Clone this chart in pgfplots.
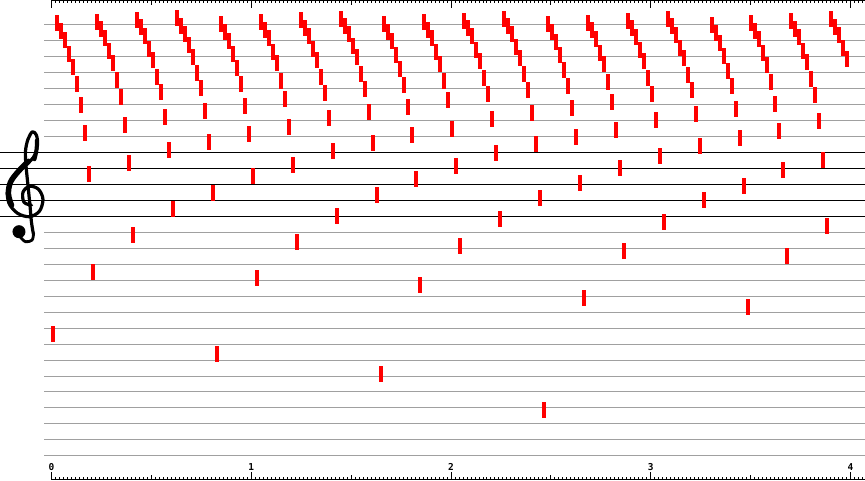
\documentclass[border=0pt]{standalone}
\usepackage{pgfplots}
\pgfplotsset{compat=1.18}
\usepackage{pgfplotstable}
\usepackage{fontspec}
\newfontfamily\monob{DejaVu Sans Mono Bold}
\definecolor{staffgray}{RGB}{160,160,160}
\pgfdeclareplotmark{vbar}{\pgfpathrectangle{\pgfpoint{0pt}{-8pt}}{\pgfpoint{4pt}{16pt}}\pgfusepathqfill}

% t = frame start time (s), s = pitch in staff steps above the middle line (B4)
\pgfplotstableread{
t s
0.00 -18.75
0.02 20.13
0.04 19.13
0.06 18.00
0.08 16.25
0.10 14.63
0.12 12.50
0.14 9.88
0.16 6.38
0.18 1.25
0.20 -11.00
0.22 20.25
0.24 19.38
0.26 18.25
0.28 16.63
0.30 15.13
0.32 13.00
0.34 10.88
0.36 7.38
0.38 2.63
0.40 -6.38
0.42 20.50
0.44 19.63
0.46 18.50
0.48 16.88
0.50 15.50
0.52 13.38
0.54 11.50
0.56 8.38
0.58 4.25
0.60 -3.13
0.62 20.75
0.64 19.75
0.66 18.75
0.68 17.38
0.70 15.88
0.72 13.88
0.74 12.00
0.76 9.13
0.78 5.25
0.80 -1.13
0.82 -21.25
0.84 20.00
0.86 19.00
0.88 17.88
0.90 16.25
0.92 14.50
0.94 12.50
0.96 9.75
0.98 6.25
1.00 1.00
1.02 -11.75
1.04 20.25
1.06 19.25
1.08 18.25
1.10 16.50
1.12 15.13
1.14 12.88
1.16 10.63
1.18 7.13
1.20 2.38
1.22 -7.25
1.24 20.50
1.26 19.50
1.28 18.50
1.30 16.88
1.32 15.50
1.34 13.38
1.36 11.38
1.38 8.25
1.40 4.13
1.42 -4.00
1.44 20.63
1.46 19.75
1.48 18.75
1.50 17.25
1.52 15.88
1.54 13.75
1.56 11.88
1.58 9.00
1.60 5.13
1.62 -1.38
1.64 -23.75
1.655 20.00
1.675 19.00
1.695 17.88
1.715 16.13
1.735 14.38
1.755 12.38
1.775 9.63
1.795 6.13
1.815 0.63
1.835 -12.63
1.855 20.25
1.875 19.25
1.895 18.25
1.915 16.50
1.935 15.00
1.955 12.88
1.975 10.50
1.995 6.88
2.015 2.25
2.035 -7.75
2.055 20.38
2.075 19.50
2.095 18.50
2.115 16.75
2.135 15.38
2.155 13.25
2.175 11.25
2.195 8.13
2.215 3.88
2.235 -4.38
2.255 20.63
2.275 19.75
2.295 18.75
2.315 17.13
2.335 15.75
2.355 13.75
2.375 11.75
2.395 8.88
2.415 5.00
2.435 -1.75
2.455 -28.25
2.475 20.00
2.495 19.00
2.515 17.75
2.535 16.13
2.555 14.25
2.575 12.25
2.595 9.50
2.615 5.88
2.635 0.13
2.655 -14.25
2.675 20.13
2.695 19.25
2.715 18.13
2.735 16.38
2.755 15.00
2.775 12.75
2.795 10.25
2.815 6.75
2.835 2.00
2.855 -8.38
2.875 20.38
2.895 19.50
2.915 18.38
2.935 16.75
2.955 15.38
2.975 13.25
2.995 11.25
3.015 8.00
3.035 3.50
3.055 -4.75
3.075 20.63
3.095 19.75
3.115 18.63
3.135 17.00
3.155 15.75
3.175 13.63
3.195 11.75
3.215 8.75
3.235 4.75
3.255 -2.00
3.295 19.88
3.315 18.88
3.335 17.63
3.355 16.00
3.375 14.13
3.395 12.25
3.415 9.38
3.435 5.75
3.455 -0.25
3.475 -15.38
3.49 20.13
3.51 19.13
3.53 18.13
3.55 16.38
3.57 14.88
3.59 12.75
3.61 10.00
3.63 6.63
3.65 1.75
3.67 -9.00
3.69 20.38
3.71 19.38
3.73 18.38
3.75 16.63
3.77 15.25
3.79 13.13
3.81 11.13
3.83 7.88
3.85 3.00
3.87 -5.25
3.89 20.63
3.91 19.63
3.93 18.63
3.95 17.00
3.97 15.63
}\notes

\begin{document}
\begin{tikzpicture}
\begin{axis}[
  scale only axis, width=865pt, height=480pt,
  xmin=-0.255, xmax=4.07, ymin=-37, ymax=23,
  axis line style={draw=none},
  ytick=\empty,
  xtick={0,1,2,3,4},
  xticklabels={0,1,2,3,4},
  /pgf/number format/assume math mode=true,
  minor xtick={0,0.02,...,4.07},
  extra x ticks={0.5,1.5,2.5,3.5},
  extra x tick labels={},
  extra x tick style={major tick length=4.5pt},
  tick align=inside,
  major tick length=8pt, minor tick length=2.5pt,
  tick style={black, line width=0.9pt},
  xticklabel style={font=\monob\fontsize{9.5}{9.5}\selectfont, anchor=center, yshift=13pt},
  clip=false,
]
% staff: grey ledger lines and the five black staff lines
\pgfplotsinvokeforeach{-34,-32,...,-6}{\draw[staffgray, line width=1pt] (axis cs:-0.035,#1) -- (axis cs:4.07,#1);}
\pgfplotsinvokeforeach{6,8,...,20}{\draw[staffgray, line width=1pt] (axis cs:-0.035,#1) -- (axis cs:4.07,#1);}
\pgfplotsinvokeforeach{-4,-2,...,4}{\draw[black, line width=1pt] (axis cs:-0.255,#1) -- (axis cs:4.07,#1);}
% time axis lines (top and bottom)
\draw[black, line width=1pt] (axis cs:0,22.94) -- (axis cs:4.07,22.94);
\draw[black, line width=1pt] (axis cs:0,-36.94) -- (axis cs:4.07,-36.94);
\coordinate (TL) at (axis cs:-0.255,23);
\addplot[only marks, mark=vbar, color=red] table[x=t, y=s] {\notes};
\end{axis}
% treble clef (no installed font has the glyph, drawn as a shape; pixel coords, y down)
\begin{scope}[shift={(TL)}, x=1pt, y=-1pt]
  \draw[black, line width=3.2pt, line cap=round, line join=round]
    plot[smooth, tension=0.55] coordinates {(33,234) (31,222) (29.5,205) (27.5,185) (25.5,165) (25,151) (27.5,139) (32,131.5) (36,135) (37,145) (33,157) (22,168) (12,178) (7,190) (8.5,203) (17,213) (29,216.5) (39,211) (42.5,199) (38,189) (29,186) (22.5,192) (23.5,202) (31,205)};
  \draw[black, line width=5.5pt, line cap=round]
    plot[smooth, tension=0.6] coordinates {(28,161) (18,171) (10,182) (8,194) (11,205)};
  \draw[black, line width=4pt, line cap=round]
    plot[smooth, tension=0.6] coordinates {(34,159) (36,150) (36.5,140)};
  \draw[black, line width=2.8pt, line cap=round]
    plot[smooth, tension=0.6] coordinates {(33,234) (31.5,240) (25,241.5) (20,237)};
  \fill[black] (18.5,231.5) circle (6.5pt);
\end{scope}
\end{tikzpicture}
\end{document}
